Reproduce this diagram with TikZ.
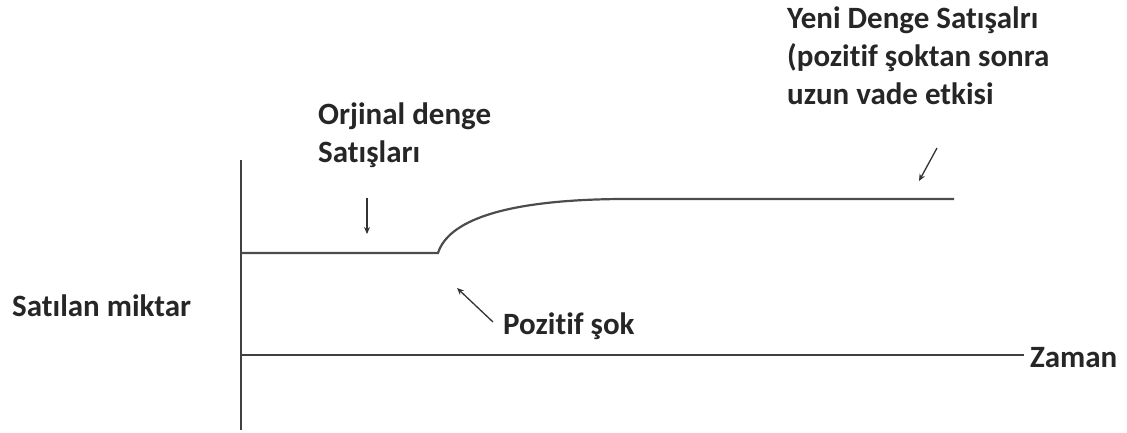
\documentclass[tikz,border=0pt]{standalone}
\usepackage{fontspec}
\setmainfont[Ligatures=NoCommon]{Carlito}
\usetikzlibrary{arrows.meta}
\begin{document}
\begin{tikzpicture}[x=1pt,y=-1pt,
  axisline/.style={draw=black!75, line width=2pt},
  curveline/.style={draw=black!70, line width=2.2pt},
  pointer/.style={draw=black!80, line width=1.3pt, -{Stealth[length=7pt,width=6pt]}},
  lbl/.style={font=\fontsize{31}{38}\selectfont\bfseries, text=black!85, inner sep=0pt, anchor=base west, align=left}]
\useasboundingbox (0,0) rectangle (1127,432);
% axes
\coordinate (ytop) at (241,160);
\coordinate (ybot) at (241,430);
\coordinate (xleft) at (241,355);
\coordinate (xright) at (1024,355);
\draw[axisline] (ytop) -- (ybot);
\draw[axisline] (xleft) -- (xright);
% sales curve
\coordinate (c0) at (241,253);
\coordinate (c1) at (438,253);
\coordinate (c2) at (620,199);
\coordinate (c3) at (954,199);
\draw[curveline] (c0) -- (c1) .. controls (448,222) and (500,200) .. (c2) -- (c3);
% labels
\node[lbl] (ylab) at (12,316) {Satılan miktar};
\node[lbl] (xlab) at (1030,367) {Zaman};
\node[lbl] (orig) at (318,162) {Orjinal denge\\Satışları};
\node[lbl] (shock) at (503,334) {Pozitif şok};
\node[lbl] (newl) at (787,104) {Yeni Denge Satışalrı\\(pozitif şoktan sonra\\uzun vade etkisi};
% pointers
\coordinate (a1s) at (367,198);
\coordinate (a1e) at (367,234);
\draw[pointer] (a1s) -- (a1e);
\coordinate (a2s) at (493,322);
\coordinate (a2e) at (457,288);
\draw[pointer] (a2s) -- (a2e);
\coordinate (a3s) at (937,148);
\coordinate (a3e) at (919,181);
\draw[pointer] (a3s) -- (a3e);
\end{tikzpicture}
\end{document}
